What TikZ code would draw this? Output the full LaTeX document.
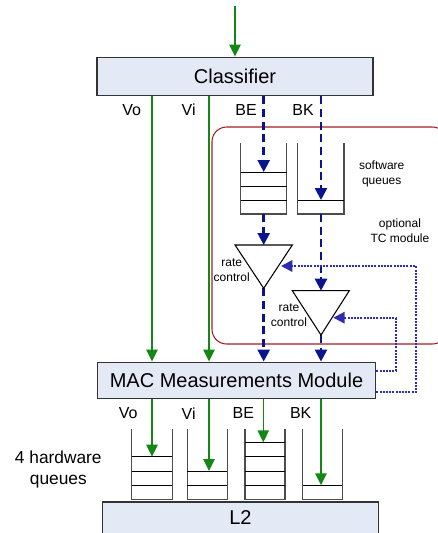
\documentclass[tikz,border=0pt]{standalone}
\usepackage{fontspec}
\setmainfont{Liberation Sans}
\usetikzlibrary{arrows.meta}
\definecolor{boxfill}{RGB}{228,234,245}
\definecolor{grn}{RGB}{20,135,20}
\definecolor{navy}{RGB}{10,20,140}
\definecolor{dotblue}{RGB}{45,45,175}
\definecolor{tcred}{RGB}{160,30,40}
\tikzset{
 box/.style={draw=black!80, fill=boxfill, line width=0.9pt, inner sep=0pt, font=\fontsize{15}{18}\selectfont},
 lbl/.style={font=\fontsize{12}{14}\selectfont, inner sep=0pt},
 small/.style={font=\fontsize{9}{11}\selectfont, inner sep=0pt, align=center},
 garrow/.style={draw=grn, line width=1.2pt, -{Triangle[length=9pt,width=8.5pt]}},
 barrow/.style={draw=navy, line width=1.9pt, dash pattern=on 6pt off 3.5pt, -{Triangle[length=9pt,width=9pt]}},
 darrow/.style={draw=dotblue, line width=1.6pt, dash pattern=on 1.5pt off 0.9pt, -{Triangle[length=8.5pt,width=8.5pt]}},
 qwall/.style={draw=black!70, line width=0.9pt},
 qline/.style={draw=black, line width=0.6pt},
 tri/.style={draw=black, line width=0.8pt, fill=white},
}
\begin{document}
\begin{tikzpicture}[x=0.75pt,y=-0.75pt]
\useasboundingbox (0,0) rectangle (437,533);

% optional TC module frame
\draw[tcred, line width=0.8pt, rounded corners=11pt] (212,127) rectangle (447,344);

% boxes
\node[box, minimum width=207pt, minimum height=29pt] (cls) at (235,76.5) {Classifier};
\node[box, minimum width=209pt, minimum height=27.5pt] (mac) at (236.5,380.5) {MAC Measurements Module};
\node[box, minimum width=206.5pt, minimum height=30pt] (l2) at (240.5,522) {};
\node[font=\fontsize{15}{18}\selectfont, inner sep=0pt] (l2t) at (240.5,518) {L2};

% input arrow
\coordinate (in) at (235,6);
\draw[garrow] (in) -- (cls.north);

% column coordinates
\coordinate (xvo) at (152,0);
\coordinate (xvi) at (209,0);
\coordinate (xbe) at (263.7,0);
\coordinate (xbk) at (321,0);

% labels under classifier
\node[lbl] (lvo1) at (131.7,110) {Vo};
\node[lbl] (lvi1) at (188.7,110) {Vi};
\node[lbl] (lbe1) at (246,110) {BE};
\node[lbl] (lbk1) at (303,110) {BK};

% labels under MAC
\node[lbl] (lvo2) at (128.3,413.3) {Vo};
\node[lbl] (lvi2) at (188.7,413.3) {Vi};
\node[lbl] (lbe2) at (243.3,413.3) {BE};
\node[lbl] (lbk2) at (300.7,413.3) {BK};

% software queues
\draw[qwall] (240.7,143) -- (240.7,214) -- (286.7,214) -- (286.7,143);
\draw[qline] (240.7,172) -- (286.7,172) (240.7,186) -- (286.7,186) (240.7,200) -- (286.7,200);
\draw[qwall] (297.7,143) -- (297.7,214) -- (344,214) -- (344,143);
\draw[qline] (297.7,200) -- (344,200);
\coordinate (sqbe) at (263.7,172);
\coordinate (sqbeb) at (263.7,214);
\coordinate (sqbk) at (321,200);
\coordinate (sqbkb) at (321,214);

% triangles (rate control)
\coordinate (t1a) at (263.7,245);
\coordinate (t1b) at (263.7,288.3);
\coordinate (t2a) at (321,290.7);
\coordinate (t2b) at (321,335);
\coordinate (t1r) at (281,266);
\coordinate (t2r) at (333.3,317.7);

% green arrows classifier -> MAC
\draw[garrow] (xvo |- cls.south) -- (xvo |- mac.north);
\draw[garrow] (xvi |- cls.south) -- (xvi |- mac.north);

% blue dashed arrows
\draw[barrow] (xbe |- cls.south) -- (sqbe);
\draw[barrow] (xbk |- cls.south) -- (sqbk);
\draw[barrow] (sqbeb) -- (t1a);
\draw[barrow] (sqbkb) -- (t2a);
\draw[barrow] (t1b) -- (xbe |- mac.north);
\draw[barrow] (t2b) -- (xbk |- mac.north);

\draw[tri] (235,245) -- (292.3,245) -- (t1b) -- cycle;
\draw[tri] (292.3,290.7) -- (349.3,290.7) -- (t2b) -- cycle;

% feedback loops
\coordinate (f1) at (415.7,392.3);
\coordinate (f2) at (395.7,370.7);
\draw[darrow] (mac.east |- f1) -- (f1) |- (t1r);
\draw[darrow] (mac.east |- f2) -- (f2) |- (t2r);

% texts
\node[small] (rc1) at (231.7,270) {rate\\control};
\node[small] (rc2) at (289,315.5) {rate\\control};
\node[small] (swq) at (381.7,174) {software\\queues};
\node[small] (otc) at (400,230.5) {optional\\TC module};
\node[font=\fontsize{13}{16}\selectfont, align=center, inner sep=0pt] (hwq) at (58.3,469.5) {4 hardware\\queues};

% hardware queues
\draw[qwall] (131.7,429) -- (131.7,499.3) -- (172.3,499.3) -- (172.3,429);
\draw[qline] (131.7,456.7) -- (172.3,456.7) (131.7,471) -- (172.3,471) (131.7,485.3) -- (172.3,485.3);
\draw[qwall] (187.3,429) -- (187.3,499.3) -- (227.3,499.3) -- (227.3,429);
\draw[qline] (187.3,471) -- (227.3,471) (187.3,485.3) -- (227.3,485.3);
\draw[qwall] (245,429) -- (245,499.3) -- (285,499.3) -- (285,429);
\draw[qline] (245,442.3) -- (285,442.3) (245,456.7) -- (285,456.7) (245,471) -- (285,471) (245,485.3) -- (285,485.3);
\draw[qwall] (302.7,429) -- (302.7,499.3) -- (342.3,499.3) -- (342.3,429);
\draw[qline] (302.7,485.3) -- (342.3,485.3);
\coordinate (hqvo) at (152,456.7);
\coordinate (hqvi) at (209,471);
\coordinate (hqbe) at (263.3,442.3);
\coordinate (hqbk) at (321,485.3);

\draw[garrow] (xvo |- mac.south) -- (hqvo);
\draw[garrow] (xvi |- mac.south) -- (hqvi);
\draw[garrow] (hqbe |- mac.south) -- (hqbe);
\draw[garrow] (xbk |- mac.south) -- (hqbk);
\end{tikzpicture}
\end{document}
